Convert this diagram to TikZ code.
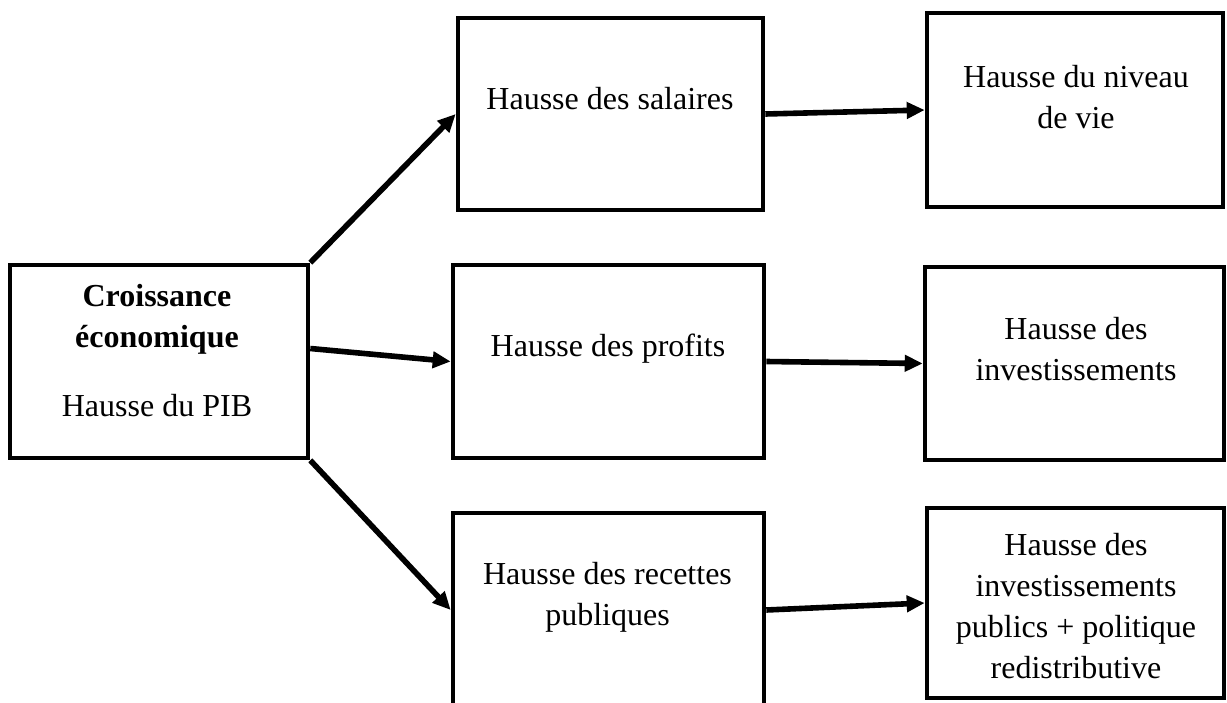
\documentclass[tikz,border=0pt]{standalone}
\usepackage{fontspec}
\setmainfont{Liberation Serif}
\usetikzlibrary{positioning}
\usetikzlibrary{arrows.meta}

\tikzset{
  boite/.style={draw, line width=2.3pt, inner sep=0pt},
  texte/.style={align=center, inner sep=0pt, font=\fontsize{16}{20.5}\selectfont},
  fleche/.style={line width=2.8pt, -{Triangle[length=9pt,width=8pt]}}
}

\begin{document}
\begin{tikzpicture}[x=0.5pt,y=-0.5pt]
            \useasboundingbox (0,0) rectangle (1227,702);
            % Left box (croissance)
            \node[boite, minimum width=149pt, minimum height=96.5pt] (pib) at (159,361.5) {};
            \node[texte] (pibtxt) at (157,350.5) {\textbf{Croissance}\\\textbf{économique}\\[14pt]Hausse du PIB};
            % Middle column
            \node[boite, minimum width=152.5pt, minimum height=96pt] (salaires) at (610.5,114) {};
            \node[boite, minimum width=155.5pt, minimum height=96.5pt] (profits) at (608.5,361.5) {};
            \node[boite, minimum width=155.5pt, minimum height=97pt] (recettes) at (608.5,610) {};
            \node[texte] (salairestxt) at (610,99) {Hausse des salaires};
            \node[texte] (profitstxt) at (608,349) {Hausse des profits};
            \node[texte] (recettestxt) at (607.5,597.5) {Hausse des recettes\\publiques};
            % Right column
            \node[boite, minimum width=148pt, minimum height=97pt] (vie) at (1075,110) {};
            \node[boite, minimum width=149.5pt, minimum height=96.5pt] (invest) at (1074.5,363.5) {};
            \node[boite, minimum width=148.5pt, minimum height=95pt] (redis) at (1075.5,603) {};
            \node[texte] (vietxt) at (1076,97.5) {Hausse du niveau\\de vie};
            \node[texte] (investtxt) at (1076,349) {Hausse des\\investissements};
            \node[texte] (redistxt) at (1076,606) {Hausse des\\investissements\\publics + politique\\redistributive};
            % Arrows
            \draw[fleche] (pib.north east) -- (salaires.west);
            \draw[fleche] ([yshift=6.5pt]pib.east) -- (profits.west);
            \draw[fleche] (pib.south east) -- (recettes.west);
            \draw[fleche] (salaires.east) -- (vie.west);
            \draw[fleche] (profits.east) -- (invest.west);
            \draw[fleche] (recettes.east) -- (redis.west);
        \end{tikzpicture}
\end{document}
